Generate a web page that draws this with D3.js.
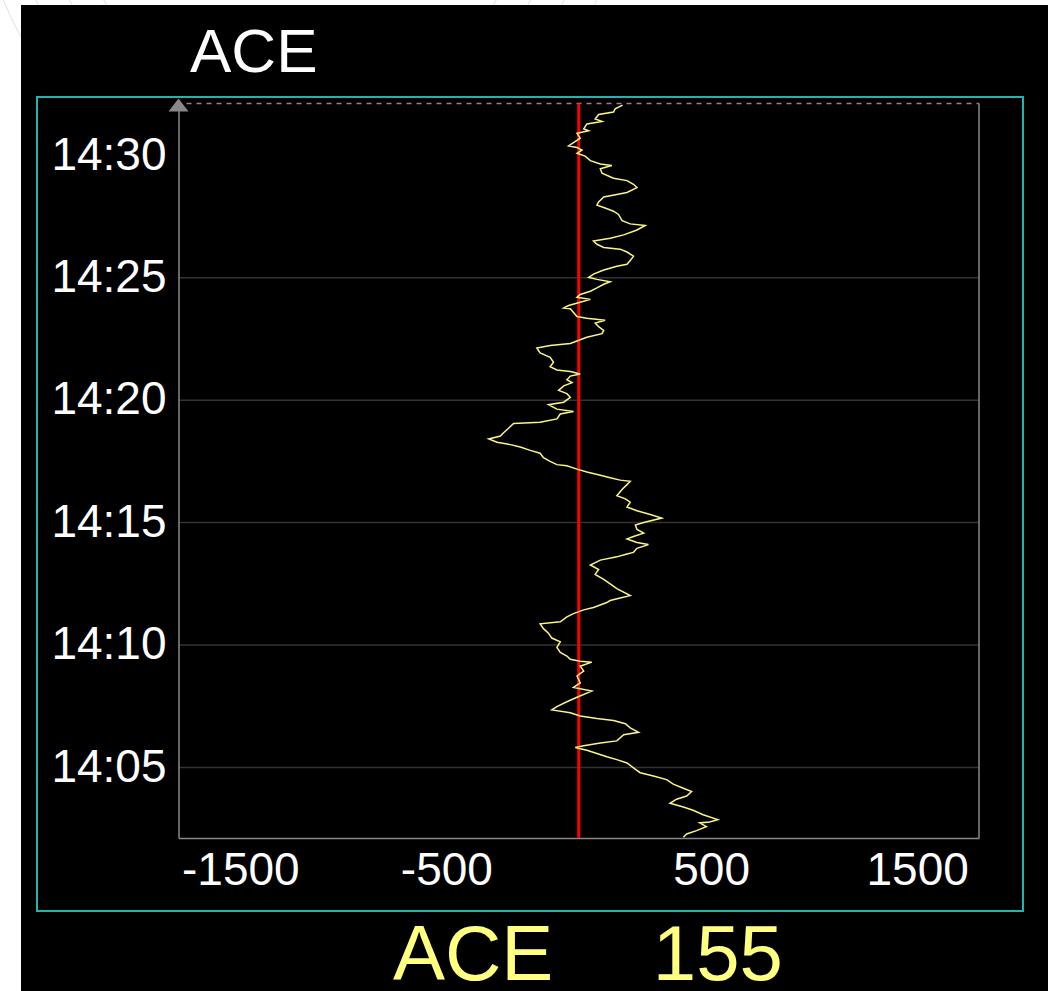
<!DOCTYPE html>
<html>
<head>
<meta charset="utf-8">
<script src="https://cdn.jsdelivr.net/npm/d3@7/dist/d3.min.js"></script>
<style>
  html, body { margin: 0; padding: 0; background: #ffffff; }
  svg { display: block; }
</style>
</head>
<body>
<svg id="chart" width="1048" height="991"></svg>
<script>
// ---- DATA (latest sample first) ----
const title = "ACE";
const currentLabel = "ACE";
const currentValue = 155;
// seconds after 14:00:00
const secondsAfter1400 = [
  1923,1914,1906,1900,1889,1883,1877,1865,1860,1854,1842,1831,1823,1819,1813,1805,1798,1787,1779,1775,
  1767,1756,1744,1738,1729,1721,1709,1704,1698,1686,1678,1671,1663,1655,1640,1632,1628,1617,1605,1597,
  1590,1582,1574,1570,1563,1553,1542,1533,1528,1519,1509,1501,1496,1490,1484,1475,1467,1459,1452,1447,
  1440,1432,1426,1424,1415,1405,1401,1396,1389,1380,1371,1363,1354,1348,1339,1334,1328,1316,1305,1293,
  1282,1274,1270,1264,1259,1250,1243,1235,1224,1216,1207,1195,1189,1178,1172,1166,1154,1146,1143,1131,
  1120,1112,1105,1097,1091,1085,1077,1070,1059,1050,1042,1039,1031,1024,1016,1010,1004,1001,993,981,
  966,958,950,938,929,920,911,900,894,883,874,866,860,851,846,837,827,823,816,808,
  796,785,773,761,750,738,721,715,709,704,692,686,677,669,657,652,640,629,617,608,
  594,582,573,565,560,558,548,536,524,507,496,487,472,461,449,441,434,426,420,415,
  407,397,386,380,365,360,353,349,342,334,326,319,311,299,287,279,270,259,249,241,
  230,222,212,203,195,184,172,166,164,155,145,137,129
];
const aceValues = [
  155,128,122,69,57,81,28,17,34,-6,5,-18,-35,-6,11,-6,22,40,75,116,
  75,81,122,171,195,208,171,134,87,69,63,92,122,140,153,183,239,208,159,110,
  51,63,87,146,171,195,183,171,134,87,51,34,63,110,87,63,40,5,-6,40,
  5,-35,-52,-29,-18,-6,28,92,57,69,87,81,28,5,-29,-100,-148,-136,-100,-88,
  -100,-76,-29,5,-29,-41,-23,-52,-70,-41,-29,-52,-106,-76,-18,-64,-76,-136,-234,-253,
  -272,-284,-329,-297,-246,-209,-172,-136,-124,-100,-76,-41,-6,28,75,110,146,183,171,153,
  134,165,183,171,208,258,302,233,202,208,233,195,171,208,251,208,195,171,134,75,
  40,69,57,87,110,134,183,146,110,98,51,17,-18,-41,-64,-136,-124,-106,-94,-64,
  -76,-64,-41,-29,5,45,5,17,-6,5,-18,45,-6,-41,-76,-94,-29,5,63,122,
  165,183,214,159,134,75,17,-12,28,63,98,134,171,195,220,270,321,347,387,420,
  400,360,334,387,426,467,528,494,453,480,440,400,387
];
const xTickValues = [-1500, -500, 500, 1500];
const xDomain = [-1864, 1864];
const timeStartSec = 127;   // 14:02:07
const timeEndSec = 1927;    // 14:32:07
const yTickMinutes = ["14:05", "14:10", "14:15", "14:20", "14:25", "14:30"];
const gridMinutes = ["14:05", "14:10", "14:15", "14:20", "14:25"];
const referenceValue = 0;

// ---- helpers ----
const base = new Date(2000, 0, 1, 14, 0, 0);
const toDate = s => new Date(base.getTime() + s * 1000);
const parseHM = str => { const [h, m] = str.split(":").map(Number); return new Date(2000, 0, 1, h, m, 0); };

const data = secondsAfter1400.map((s, i) => ({ t: toDate(s), v: aceValues[i] }));

// ---- layout ----
const svg = d3.select("#chart");
const W = 1048, H = 991;
const plot = { left: 178.5, right: 979, top: 103.5, bottom: 838 };
const fontFam = "Arial, 'Liberation Sans', Helvetica, sans-serif";

// faint background decoration on white page edge
const deco = svg.append("g").attr("fill", "none").attr("stroke", "#e6e6e6").attr("stroke-width", 1.2);
[230, 260, 290, 320].forEach(r => {
  deco.append("circle").attr("cx", 300).attr("cy", -120).attr("r", r);
});

// black panel
svg.append("rect").attr("x", 21).attr("y", 5).attr("width", W - 21).attr("height", H - 5).attr("fill", "#000");

// cyan frame
svg.append("rect").attr("x", 37).attr("y", 97).attr("width", 986).attr("height", 814)
  .attr("fill", "none").attr("stroke", "#22b5b0").attr("stroke-width", 2);

// title
svg.append("text").attr("x", 190).attr("y", 72).text(title)
  .attr("fill", "#fff").attr("font-family", fontFam).attr("font-size", 62);

// scales
const x = d3.scaleSymlog().constant(2330).domain(xDomain).range([plot.left, plot.right]);
const y = d3.scaleTime().domain([toDate(timeStartSec), toDate(timeEndSec)]).range([plot.bottom, plot.top]);

// gridlines
svg.append("g").selectAll("line").data(gridMinutes.map(parseHM)).join("line")
  .attr("x1", plot.left).attr("x2", plot.right)
  .attr("y1", d => y(d)).attr("y2", d => y(d))
  .attr("stroke", "#333").attr("stroke-width", 1.5);

// frame lines of plot
svg.append("line").attr("x1", plot.left + 8).attr("x2", plot.right).attr("y1", plot.top).attr("y2", plot.top)
  .attr("stroke", "#888").attr("stroke-width", 1.5).attr("stroke-dasharray", "5,5");
svg.append("line").attr("x1", plot.right).attr("x2", plot.right).attr("y1", plot.top).attr("y2", plot.bottom)
  .attr("stroke", "#888").attr("stroke-width", 1.5);

// x axis
const xAxis = d3.axisBottom(x).tickValues(xTickValues).tickSize(0).tickPadding(14).tickFormat(d => String(d));
const gx = svg.append("g").attr("transform", `translate(0,${plot.bottom})`).call(xAxis);
gx.select(".domain").attr("stroke", "#888").attr("stroke-width", 1.5);
gx.selectAll("text").attr("fill", "#fff").attr("font-family", fontFam).attr("font-size", 46);

// y axis
const yAxis = d3.axisLeft(y).tickValues(yTickMinutes.map(parseHM)).tickSize(0).tickPadding(12)
  .tickFormat(d3.timeFormat("%H:%M"));
const gy = svg.append("g").attr("transform", `translate(${plot.left},0)`).call(yAxis);
gy.select(".domain").attr("stroke", "#888").attr("stroke-width", 1.5);
gy.selectAll("text").attr("fill", "#fff").attr("font-family", fontFam).attr("font-size", 46).attr("dy", "0.3em");

// arrow on y axis top
svg.append("path")
  .attr("d", `M${plot.left},${plot.top - 5} L${plot.left + 10},${plot.top + 8} L${plot.left - 10},${plot.top + 8} Z`)
  .attr("fill", "#888");

// reference red line
svg.append("line").attr("x1", x(referenceValue)).attr("x2", x(referenceValue))
  .attr("y1", plot.top).attr("y2", plot.bottom)
  .attr("stroke", "#ff0000").attr("stroke-width", 3);

// data line
const line = d3.line().x(d => x(d.v)).y(d => y(d.t));
svg.append("path").datum(data).attr("d", line)
  .attr("fill", "none").attr("stroke", "#fbf585").attr("stroke-width", 1.5).attr("stroke-linejoin", "miter");

// current value readout
svg.append("text").attr("x", 393).attr("y", 980).text(currentLabel)
  .attr("fill", "#ffff80").attr("font-family", fontFam).attr("font-size", 78);
svg.append("text").attr("x", 783).attr("y", 980).attr("text-anchor", "end").text(String(currentValue))
  .attr("fill", "#ffff80").attr("font-family", fontFam).attr("font-size", 78);
</script>
</body>
</html>
